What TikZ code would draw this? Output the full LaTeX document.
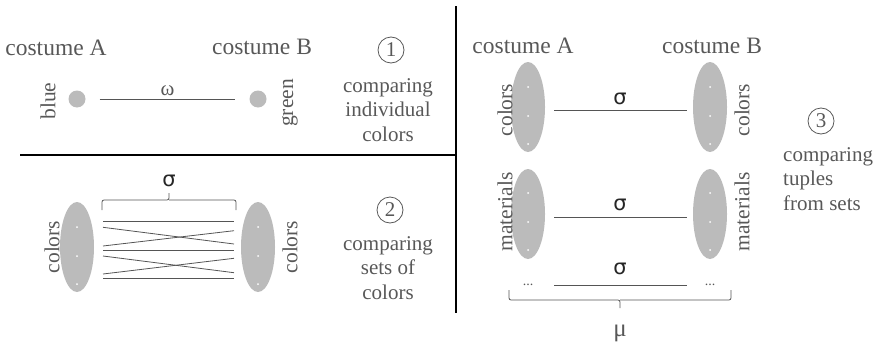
\documentclass[tikz,border=0pt]{standalone}
\usepackage{fontspec}
\setmainfont{Liberation Serif}
\newfontfamily\greekfont{DejaVu Sans}
\usetikzlibrary{shapes.geometric,calc}
\definecolor{txtgray}{RGB}{88,88,88}
\definecolor{linegray}{RGB}{85,85,85}
\definecolor{setgray}{RGB}{187,187,187}
\begin{document}
\begin{tikzpicture}[x=1pt,y=-1pt,
  heading/.style={text=txtgray,font=\fontsize{23.5}{27}\selectfont,inner sep=0pt},
  sidelabel/.style={text=txtgray,font=\fontsize{21.5}{24}\selectfont,rotate=90,inner sep=0pt},
  descr/.style={text=txtgray,font=\fontsize{21}{24.5}\selectfont,inner sep=0pt},
  numcircle/.style={circle,draw=txtgray,line width=0.8pt,text=txtgray,minimum size=26pt,inner sep=0pt,font=\fontsize{21}{24}\selectfont},
  colordot/.style={circle,fill=setgray,minimum size=17pt,inner sep=0pt},
  setblob/.style={ellipse,fill=setgray,minimum width=34pt,minimum height=90pt,inner sep=0pt},
  member/.style={circle,fill=white,minimum size=2pt,inner sep=0pt},
  link/.style={draw=linegray,line width=0.9pt},
  sigmalbl/.style={font=\greekfont\fontsize{21}{24}\selectfont,text=black!85,inner sep=0pt},
  ellipsis/.style={text=txtgray,font=\fontsize{14}{16}\selectfont,inner sep=0pt},
  divider/.style={line width=2.4pt,draw=black}]
\useasboundingbox (0,0) rectangle (882,348);

% panel dividers
\coordinate (hl) at (20,155);
\coordinate (hr) at (456,155);
\coordinate (vt) at (456,6);
\coordinate (vb) at (456,313);
\draw[divider] (hl) -- (hr);
\draw[divider] (vt) -- (vb);

% ---------- panel 1: individual colours ----------
\node[heading] (p1a) at (56,48) {costume A};
\node[heading] (p1b) at (262,47) {costume B};
\node[numcircle] (n1) at (391,50) {1};
\node[descr,align=center] (d1) at (388,110) {comparing\\individual\\colors};
\node[colordot] (blue) at (77,99) {};
\node[colordot] (green) at (258,99) {};
\node[sidelabel] (lblue) at (48,101) {blue};
\node[sidelabel] (lgreen) at (290,103) {green};
\draw[link,shorten <=14pt,shorten >=14pt] (blue) -- (green)
  node[midway,above=3pt,text=txtgray,font=\fontsize{21}{24}\selectfont,inner sep=0pt] (omega) {ω};

% ---------- panel 2: sets of colours ----------
\node[setblob] (s2a) at (77,247) {};
\node[setblob] (s2b) at (258,247) {};
\foreach \y [count=\i] in {227,256,284}{
  \node[member] (a\i) at (77,\y) {};
  \node[member] (b\i) at (258,\y) {};
}
\node[sidelabel] (c2a) at (52,247) {colors};
\node[sidelabel] (c2b) at (290,247) {colors};
\node[numcircle] (n2) at (390,210) {2};
\node[descr,align=center] (d2) at (388,268) {comparing\\sets of\\colors};

% pairwise comparison lines
\foreach \ya/\yb [count=\k] in {221.7/221.7, 227.3/244, 246/230.7, 250/250, 256/272.7, 274/258.3, 278.3/278.3}{
  \coordinate (la\k) at (103,\ya);
  \coordinate (lb\k) at (234,\yb);
  \draw[link,line width=0.8pt] (la\k) -- (lb\k);
}
% brace over the lines
\coordinate (br1) at (102,210);
\coordinate (br2) at (236,210);
\coordinate (brm) at (169,200);
\coordinate (brt) at (169,193);
\draw[link,line width=0.8pt,rounded corners=2pt] (br1) |- (brm) -- (brt);
\draw[link,line width=0.8pt,rounded corners=2pt] (br2) |- (brm);
\node[sigmalbl] (sig2) at (169,181) {σ};

% ---------- panel 3: tuples of sets ----------
\node[heading] (p3a) at (523,46) {costume A};
\node[heading] (p3b) at (712,46) {costume B};
\node[setblob] (t1a) at (528,107) {};
\node[setblob] (t1b) at (710,107) {};
\node[setblob] (t2a) at (528,214) {};
\node[setblob] (t2b) at (710,214) {};
\foreach \y [count=\i] in {87,116,144}{
  \node[member] (ta\i) at (528,\y) {};
  \node[member] (tb\i) at (710,\y) {};
}
\foreach \y [count=\i] in {193,222,250}{
  \node[member] (ma\i) at (528,\y) {};
  \node[member] (mb\i) at (710,\y) {};
}
\node[sidelabel] (c3a) at (505,110) {colors};
\node[sidelabel] (c3b) at (742,110) {colors};
\node[sidelabel] (m3a) at (505,212) {materials};
\node[sidelabel] (m3b) at (742,212) {materials};

\coordinate (r1a) at (554,110);
\coordinate (r1b) at (687,110);
\coordinate (r2a) at (554,217);
\coordinate (r2b) at (687,217);
\draw[link] (r1a) -- (r1b);
\draw[link] (r2a) -- (r2b);
\node[sigmalbl] (sig31) at (620,99) {σ};
\node[sigmalbl] (sig32) at (620,205) {σ};

\node[ellipsis] (dda) at (528,285) {...};
\node[ellipsis] (ddb) at (710,285) {...};
\draw[link,shorten <=26pt,shorten >=23pt] (dda.center) -- (ddb.center);
\node[sigmalbl] (sig33) at (620,269) {σ};

% brace under the tuple
\coordinate (bb1) at (509,290);
\coordinate (bb2) at (731,290);
\coordinate (bbm) at (620,300);
\coordinate (bbt) at (620,308);
\draw[link,line width=0.8pt,rounded corners=2pt] (bb1) |- (bbm) -- (bbt);
\draw[link,line width=0.8pt,rounded corners=2pt] (bb2) |- (bbm);
\node[text=txtgray,font=\fontsize{25}{28}\selectfont,inner sep=0pt] (mu) at (620,333) {μ};

\node[numcircle] (n3) at (821,121) {3};
\node[descr,align=left,anchor=west] (d3) at (783,179) {comparing\\tuples\\from sets};
\end{tikzpicture}
\end{document}
